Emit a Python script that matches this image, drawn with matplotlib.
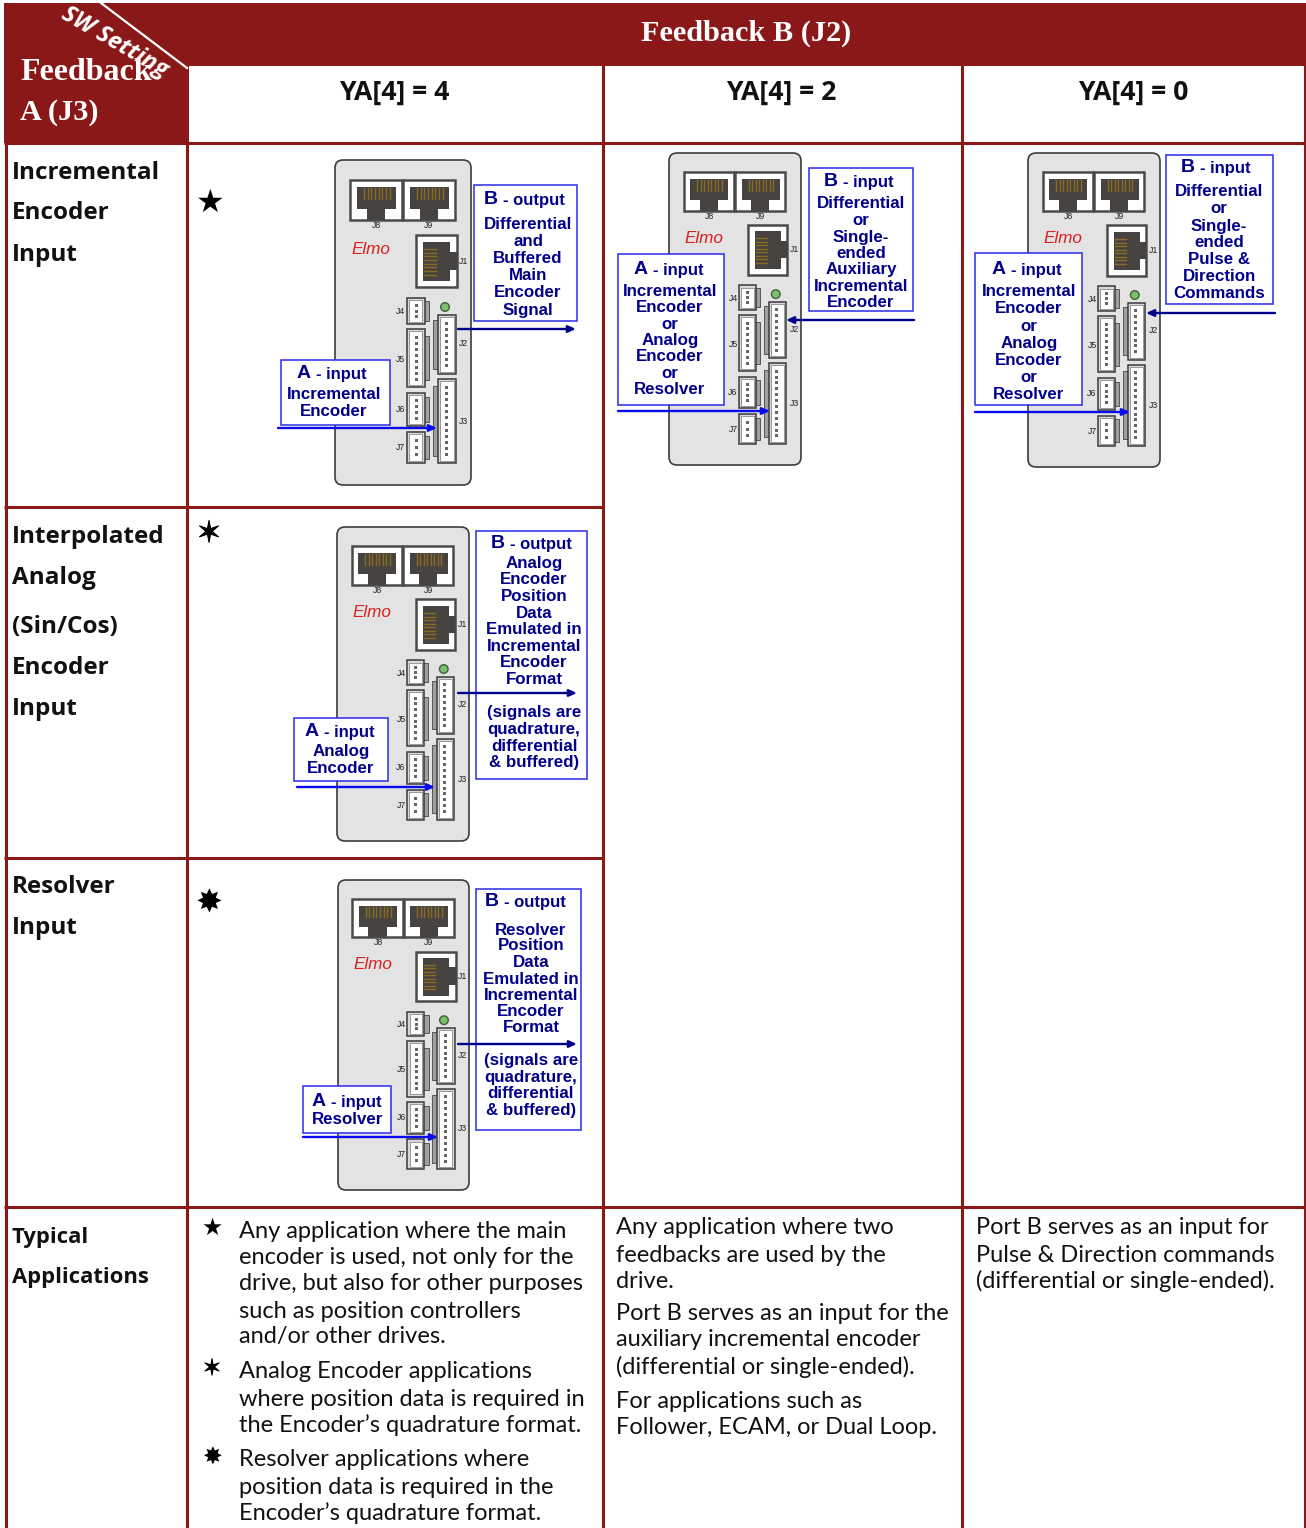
import matplotlib as mpl
mpl.use("Agg")
import matplotlib.pyplot as plt
import matplotlib.patheffects as pe
from matplotlib.patches import Rectangle, Polygon, Circle, FancyBboxPatch

W, H = 1306, 1528
MAROON = "#8B1818"
NAVY = "#00008B"
BLUE = "#0A0AEE"
BOXEDGE = "#2A2AE8"
SANS = "Liberation Sans"
BODY = "Lato"
HEAD = "Open Sans"
SERIF = "Liberation Serif"

# header and row labels
col_heads = ["YA[4] = 4", "YA[4] = 2", "YA[4] = 0"]
row_heads = [["Incremental", "Encoder", "Input"],
             ["Interpolated", "Analog", "(Sin/Cos)", "Encoder", "Input"],
             ["Resolver", "Input"],
             ["Typical", "Applications"]]
row_head_y = [[171, 211, 253], [535, 576, 625, 666, 707], [885, 926], [1235, 1276]]

# bottom row texts
apps_1 = ["Any application where the main", "encoder is used, not only for the",
          "drive, but also for other purposes", "such as position controllers",
          "and/or other drives.",
          "Analog Encoder applications", "where position data is required in",
          "the Encoder\u2019s quadrature format.",
          "Resolver applications where", "position data is required in the",
          "Encoder\u2019s quadrature format."]
apps_1_y = [1230, 1256, 1283, 1310, 1336, 1371, 1398, 1424, 1459, 1486, 1512]
apps_2 = ["Any application where two", "feedbacks are used by the", "drive.",
          "Port B serves as an input for the", "auxiliary incremental encoder",
          "(differential or single-ended).",
          "For applications such as", "Follower, ECAM, or Dual Loop."]
apps_2_y = [1227, 1254, 1280, 1313, 1339, 1366, 1400, 1427]
apps_3 = ["Port B serves as an input for", "Pulse & Direction commands",
          "(differential or single-ended)."]
apps_3_y = [1227, 1254, 1280]

# star glyphs: char, x, y, size, extra stroke
stars = [("\u2605", 210, 203, 23, 0), ("\u2736", 209, 534, 21, 0.7), ("\u2738", 209, 904, 23, 0),
         ("\u2605", 212, 1228, 17, 0), ("\u2736", 212, 1369, 16, 0.6), ("\u2738", 212, 1458, 17, 0)]

# device outlines: x0, y0, x1, y1
devices = [(335, 160, 471, 485), (669, 153, 801, 465), (1028, 153, 1160, 467),
           (337, 527, 469, 841), (338, 880, 469, 1190)]

# callouts: box, centre x, head letter, head letter x, head rest, lines, line ys
callouts = [
    ((474, 185, 577, 321), 528, "B", 484, "- output",
     ["Differential", "and", "Buffered", "Main", "Encoder", "Signal"],
     [200, 223, 240, 257, 274, 291, 309]),
    ((281, 360, 390, 425), 334, "A", 297, "- input",
     ["Incremental", "Encoder"], [373, 393, 410]),
    ((809, 168, 913, 311), 861, "B", 824, "- input",
     ["Differential", "or", "Single-", "ended", "Auxiliary", "Incremental", "Encoder"],
     [181, 202, 219, 236, 252, 268, 285, 301]),
    ((618, 254, 724, 405), 670, "A", 634, "- input",
     ["Incremental", "Encoder", "or", "Analog", "Encoder", "or", "Resolver"],
     [270, 290, 306, 323, 339, 355, 372, 388]),
    ((1166, 155, 1273, 304), 1219, "B", 1181, "- input",
     ["Differential", "or", "Single-", "ended", "Pulse &", "Direction", "Commands"],
     [168, 190, 207, 225, 241, 258, 275, 292]),
    ((975, 253, 1082, 405), 1029, "A", 992, "- input",
     ["Incremental", "Encoder", "or", "Analog", "Encoder", "or", "Resolver"],
     [269, 290, 307, 325, 342, 359, 376, 393]),
    ((476, 531, 587, 779), 534, "B", 491, "- output",
     ["Analog", "Encoder", "Position", "Data", "Emulated in", "Incremental", "Encoder", "Format",
      "(signals are", "quadrature,", "differential", "& buffered)"],
     [543, 562, 578, 595, 612, 628, 645, 661, 678, 711, 728, 745, 761]),
    ((294, 718, 388, 781), 341, "A", 305, "- input",
     ["Analog", "Encoder"], [731, 750, 767]),
    ((476, 889, 581, 1130), 531, "B", 485, "- output",
     ["Resolver", "Position", "Data", "Emulated in", "Incremental", "Encoder", "Format",
      "(signals are", "quadrature,", "differential", "& buffered)"],
     [901, 929, 944, 961, 978, 994, 1010, 1026, 1059, 1076, 1092, 1109]),
    ((303, 1086, 391, 1133), 348, "A", 312, "- input",
     ["Resolver"], [1101, 1118]),
]

# arrows: start x, end x, y, colour
arrows = [(458, 576, 329, NAVY), (278, 437, 428, BLUE), (914, 786, 320, NAVY),
          (618, 770, 411, BLUE), (1275, 1146, 313, NAVY), (975, 1130, 412, BLUE),
          (458, 577, 693, NAVY), (297, 435, 787, BLUE), (458, 577, 1044, NAVY),
          (303, 438, 1137, BLUE)]

fig = plt.figure(figsize=(W / 100, H / 100), dpi=100, facecolor="white")
ax = fig.add_axes([0, 0, 1, 1])
ax.set_xlim(0, W)
ax.set_ylim(H, 0)
ax.axis("off")


def rect(x0, y0, x1, y1, fc, ec="none", lw=0, z=2):
    ax.add_patch(Rectangle((x0, y0), x1 - x0, y1 - y0, facecolor=fc, edgecolor=ec, linewidth=lw, zorder=z))


def draw_jack(tx, ty, x0, y0, x1, y1, side=False):
    # RJ45 socket, side=True for the J1 one with the latch to the right
    x0, x1, y0, y1 = tx(x0), tx(x1), ty(y0), ty(y1)
    w, h = x1 - x0, y1 - y0
    rect(x0, y0, x1, y1, "white", "#4A4A4A", 1.8, 3)
    if side:
        pts = [(.18, .13), (.84, .13), (.84, .32), (1, .32), (1, .67), (.84, .67), (.84, .89), (.18, .89)]
    else:
        pts = [(.13, .17), (.89, .17), (.89, .72), (.68, .72), (.68, 1), (.32, 1), (.32, .72), (.13, .72)]
    ax.add_patch(Polygon([(x0 + a * w, y0 + b * h) for a, b in pts], facecolor="#474340", edgecolor="none", zorder=4))
    for i in range(8):
        if side:
            yy = y0 + (.27 + i * .07) * h
            ax.plot([x0 + .2 * w, x0 + .48 * w], [yy, yy], color="#8A6C20", lw=1.0, zorder=5)
        else:
            xx = x0 + (.27 + i * .07) * w
            ax.plot([xx, xx], [y0 + .2 * h, y0 + .48 * h], color="#8A6C20", lw=1.0, zorder=5)


def draw_conn(tx, ty, x0, y0, x1, y1, npins, tab_left):
    # header connector with the grey tab on one side
    x0, x1, y0, y1 = tx(x0), tx(x1), ty(y0), ty(y1)
    w, h = x1 - x0, y1 - y0
    if tab_left:
        rect(x0, y0 + .08 * h, x0 + .35 * w, y1 - .08 * h, "#A0A0A0", "#555555", 0.7, 3)
        bx0, bx1 = x0 + .2 * w, x1
        px = x0 + .57 * w
    else:
        rect(x1 - .35 * w, y0 + .12 * h, x1, y1 - .12 * h, "#A0A0A0", "#555555", 0.7, 3)
        bx0, bx1 = x0, x1 - .2 * w
        px = x0 + .42 * w
    rect(bx0, y0, bx1, y1, "#D8D8D8", "#3A3A3A", 1.1, 4)
    rect(bx0 + 2.2, y0 + 2.2, bx1 - 2.2, y1 - 2.2, "white", "#777777", 0.5, 4)
    step = (h - 10) / max(npins, 1)
    for i in range(npins):
        yy = y0 + 5 + step * (i + .5)
        rect(px - 1.5, yy - 1.5, px + 1.5, yy + 1.5, "#666666", z=5)


def draw_device(x0, y0, x1, y1):
    sx, sy = (x1 - x0) / 136, (y1 - y0) / 325
    tx = lambda v: x0 + v * sx
    ty = lambda v: y0 + v * sy
    ax.add_patch(FancyBboxPatch((x0, y0), x1 - x0, y1 - y0, boxstyle="round,pad=0,rounding_size=8",
                                facecolor="#E3E3E3", edgecolor="#3C3C3C", linewidth=1.2, zorder=2))
    draw_jack(tx, ty, 15, 20, 67, 60)
    draw_jack(tx, ty, 68, 20, 120, 60)
    draw_jack(tx, ty, 81, 75, 122, 127, side=True)
    draw_conn(tx, ty, 72, 138, 94, 164, 3, False)
    draw_conn(tx, ty, 72, 169, 94, 227, 8, False)
    draw_conn(tx, ty, 72, 233, 94, 266, 4, False)
    draw_conn(tx, ty, 72, 272, 94, 303, 3, False)
    draw_conn(tx, ty, 98, 155, 121, 214, 8, True)
    draw_conn(tx, ty, 98, 219, 121, 303, 12, True)
    ax.add_patch(Circle((tx(110), ty(147)), 4.3, facecolor="#7CBF6E", edgecolor="#3F5F3A", linewidth=1, zorder=4))
    ax.text(tx(36), ty(89), "Elmo", color="#D8201E", fontsize=12.3, style="italic", family=SANS,
            ha="center", va="center", zorder=6)
    for name, a, b in [("J8", 42, 66), ("J9", 94, 66), ("J1", 129, 101), ("J4", 66, 152), ("J5", 66, 199),
                       ("J6", 66, 249), ("J7", 66, 288), ("J2", 129, 184), ("J3", 129, 261)]:
        ax.text(tx(a), ty(b), name, fontsize=6.3, family=SANS, color="#222222", ha="center", va="center", zorder=6)


def vline(xx, lw=2.2):
    ax.plot([xx, xx], [3, H], color=MAROON, lw=lw, zorder=1.5, solid_capstyle="butt")


def hline(yy, x1):
    ax.plot([4, x1], [yy, yy], color=MAROON, lw=2.2, zorder=1.5, solid_capstyle="butt")


# header band and grid
for xx in [5.5, 186.5, 602.5, 961.5, 1305]:
    vline(xx)
hline(142.5, W)
hline(506.5, 603)
hline(857.5, 603)
hline(1206.5, W)
rect(4, 3, W, 66, MAROON)
rect(4, 3, 187, 143, MAROON)
ax.plot([101, 187], [3, 68], color="white", lw=1.6, zorder=3)

# header texts
ax.text(746, 33, "Feedback B (J2)", color="white", fontsize=21.8, fontweight="bold", family=SERIF, ha="center", va="center", zorder=6)
ax.text(20, 73, "Feedback", color="white", fontsize=23, fontweight="bold", family=SERIF, ha="left", va="center", zorder=4)
ax.text(20, 113, "A (J3)", color="white", fontsize=21.8, fontweight="bold", family=SERIF, ha="left", va="center", zorder=4)
ax.text(114, 42, "SW Setting", color="white", fontsize=17, fontweight="bold", style="italic", family=HEAD,
        rotation=-30, rotation_mode="anchor", ha="center", va="center", zorder=6)
for label, xx in zip(col_heads, [394, 781, 1133]):
    ax.text(xx, 93, label, fontsize=19.2, fontweight="bold", family=HEAD, ha="center", va="center", color="#111111")

# row heads, the last row is set a bit narrower
for i, (labels, ys) in enumerate(zip(row_heads, row_head_y)):
    for label, yy in zip(labels, ys):
        ax.text(12, yy + 2, label, fontsize=15.8 if i == 3 else 17.5, fontweight="bold", family=HEAD,
                ha="left", va="center", color="#111111")

# bottom row
for labels, ys, xx in [(apps_1, apps_1_y, 239), (apps_2, apps_2_y, 616), (apps_3, apps_3_y, 976)]:
    for label, yy in zip(labels, ys):
        ax.text(xx, yy + 1, label, fontsize=17.0, family=BODY, ha="left", va="center", color="#111111")

for ch, xx, yy, size, stroke in stars:
    t = ax.text(xx, yy, ch, fontsize=size, family="DejaVu Sans", ha="center", va="center", color="black", zorder=6)
    if stroke:
        t.set_path_effects([pe.withStroke(linewidth=stroke, foreground="black")])

for d in devices:
    draw_device(*d)

# callouts
for box, cx, letter, lx, rest, lines, ys in callouts:
    rect(box[0], box[1], box[2], box[3], "white", BOXEDGE, 1.1, 7)
    ax.text(lx, ys[0], letter, fontsize=14, fontweight="bold", family=SANS, color=NAVY, ha="left", va="center", zorder=8)
    ax.text(lx + 19, ys[0] + 1, rest, fontsize=12, fontweight="bold", family=SANS, color=NAVY, ha="left", va="center", zorder=8)
    for label, yy in zip(lines, ys[1:]):
        ax.text(cx, yy + 1.5, label, fontsize=12.2, fontweight="bold", family=SANS, color=NAVY, ha="center", va="center", zorder=8)

for xa, xb, yy, c in arrows:
    ax.annotate("", xy=(xb, yy), xytext=(xa, yy), zorder=9,
                arrowprops=dict(arrowstyle="-|>,head_length=0.45,head_width=0.2", color=c, lw=1.7, shrinkA=0, shrinkB=0))

fig.savefig("out.png", dpi=100, facecolor="white")
